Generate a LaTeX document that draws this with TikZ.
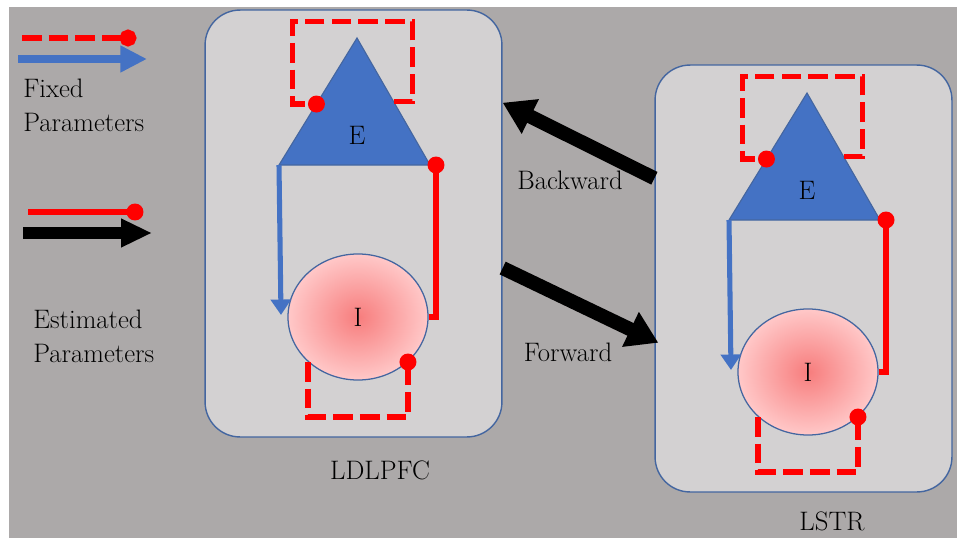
\documentclass[tikz,border=0pt]{standalone}
\usepackage{tikz}
\usetikzlibrary{shapes.geometric, arrows.meta, calc}

\definecolor{bggray}{RGB}{172,169,169}
\definecolor{boxgray}{RGB}{211,209,210}
\definecolor{boxline}{RGB}{68,102,160}
\definecolor{eblue}{RGB}{68,114,196}
\definecolor{lred}{RGB}{255,0,0}
\definecolor{pinkin}{RGB}{247,125,125}
\definecolor{pinkout}{RGB}{255,200,200}

\tikzset{
  regionbox/.style={draw=boxline, line width=1pt, fill=boxgray, rounded corners=0.875cm, minimum width=7.42cm, minimum height=10.67cm, inner sep=0pt},
  popI/.style={ellipse, draw=boxline, line width=0.9pt, inner color=pinkin, outer color=pinkout, minimum width=3.5cm, minimum height=3.15cm, inner sep=0pt, font=\fontsize{19}{24}\selectfont},
  lbl/.style={font=\fontsize{19}{24}\selectfont, align=left, inner sep=0pt},
  fixedloop/.style={draw=lred, line width=3.8pt, dash pattern=on 14pt off 5pt, -{Circle[length=12pt]}, shorten >=-6pt},
  estlink/.style={draw=lred, line width=3.8pt, -{Circle[length=12pt]}, shorten >=-6pt},
  fixedarrow/.style={draw=eblue, line width=3.6pt, -{Triangle[width=14pt,length=11pt]}},
  bigarrow/.style={draw=black, line width=10pt, -{Triangle[width=26pt,length=22pt]}}
}

\begin{document}
\begin{tikzpicture}[x=0.025cm, y=-0.025cm]
        \useasboundingbox (0,0) rectangle (957,538);
        \fill[white] (0,0) rectangle (957,538);
        \fill[bggray] (9,7) rectangle (957,538);
        % Regions
        \foreach \reg/\dx/\dy in {L/0/0, R/450/55}{
          \begin{scope}[shift={(\dx,\dy)}]
            \node[regionbox] (box\reg) at (353.5,223.5) {};
            \coordinate (top\reg) at (357,38); \coordinate (bl\reg) at (279,165); \coordinate (br\reg) at (430,165);
            \filldraw[fill=eblue, draw=boxline, line width=0.8pt] (top\reg) -- (bl\reg) -- (br\reg) -- cycle;
            \node[lbl] (E\reg) at (357,135) {E};
            \node[popI] (I\reg) at (358,317) {I};
            % self connections
            \coordinate (eR\reg) at ($(top\reg)!0.5!(br\reg)$); \coordinate (eL\reg) at ($(top\reg)!0.52!(bl\reg)$);
            \draw[fixedloop] (eR\reg) -- ++(19,0) |- ++(-120,-80) |- (eL\reg);
            \draw[fixedloop] (I\reg.222) -- ++(0,55) -| (I\reg.318);
            % E -> I and I -> E
            \draw[fixedarrow] (bl\reg) -- ($(bl\reg |- I\reg.west)+(2,-2)$);
            \coordinate (dot\reg) at ($(br\reg)+(6,0)$);
            \draw[estlink] (I\reg.east) -| (dot\reg);
          \end{scope}
        }
        \node[lbl] (nameL) at (380,470) {LDLPFC};
        \node[lbl] (nameR) at (832,521) {LSTR};
        % Between regions
        \draw[bigarrow] ($(boxR.north west)!0.266!(boxR.south west)$) -- ($(boxL.north east)!0.218!(boxL.south east)$);
        \draw[bigarrow] ($(boxL.north east)!0.604!(boxL.south east)$) -- ($(boxR.north west)!0.65!(boxR.south west)+(4,0)$);
        \node[lbl] (bwd) at (570,180) {Backward};
        \node[lbl] (fwd) at (568,352) {Forward};
        % Legend
        \coordinate (fixA) at (22,38); \coordinate (fixB) at (128,38);
        \draw[fixedloop, line width=4.2pt] (fixA) -- (fixB);
        \coordinate (fixC) at (18,59); \coordinate (fixD) at (147,59);
        \draw[draw=eblue, line width=5.7pt, -{Triangle[width=18pt,length=19pt]}] (fixC) -- (fixD);
        \node[lbl, anchor=west] (fixtxt) at (23,105) {Fixed\\Parameters};
        \coordinate (estA) at (28,212); \coordinate (estB) at (135,212);
        \draw[estlink] (estA) -- (estB);
        \coordinate (estC) at (23,233); \coordinate (estD) at (152,233);
        \draw[draw=black, line width=8.5pt, -{Triangle[width=19pt,length=22pt]}] (estC) -- (estD);
        \node[lbl, anchor=west] (esttxt) at (33,336) {Estimated\\Parameters};
\end{tikzpicture}
\end{document}
